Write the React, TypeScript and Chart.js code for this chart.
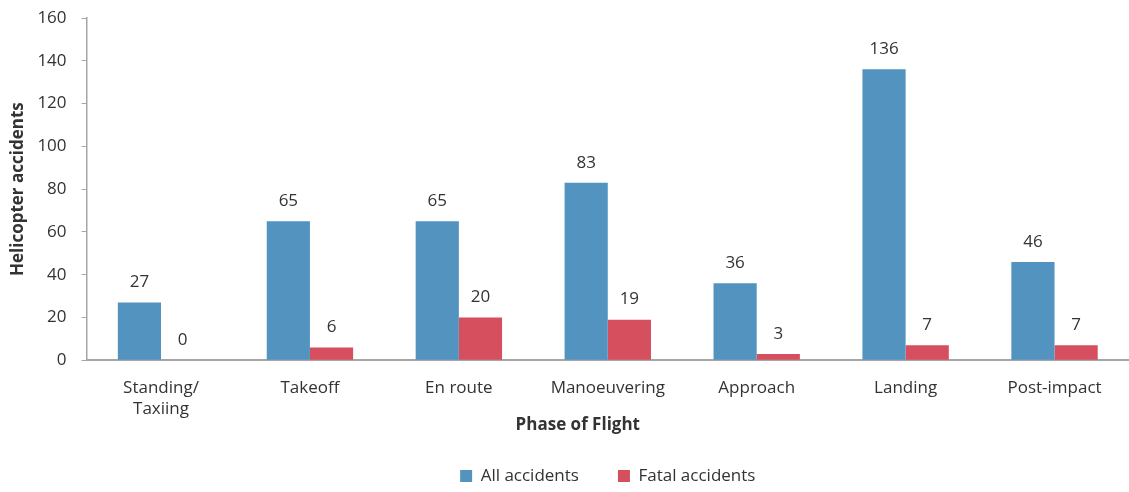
import React, { useEffect, useRef } from "react";
import { Chart, registerables } from "chart.js";

Chart.register(...registerables);

const categories: (string | string[])[] = [
  ["Standing/", "Taxiing"],
  "Takeoff",
  "En route",
  "Manoeuvering",
  "Approach",
  "Landing",
  "Post-impact",
];
const allAccidents = [27, 65, 65, 83, 36, 136, 46];
const fatalAccidents = [0, 6, 20, 19, 3, 7, 7];
const yTicks = [0, 20, 40, 60, 80, 100, 120, 140, 160];
const xTitle = "Phase of Flight";
const yTitle = "Helicopter accidents";

const FONT = "'Open Sans', 'Noto Sans', sans-serif";
const TEXT = "#333333";
const AXIS = "#a6a6a6";
const SIZE = 17;

const valueLabels = {
  id: "valueLabels",
  afterDatasetsDraw(chart: any) {
    const ctx = chart.ctx;
    ctx.save();
    ctx.font = `${SIZE}px ${FONT}`;
    ctx.fillStyle = TEXT;
    ctx.textAlign = "center";
    ctx.textBaseline = "middle";
    chart.data.datasets.forEach((ds: any, i: number) => {
      const meta = chart.getDatasetMeta(i);
      meta.data.forEach((bar: any, j: number) => {
        ctx.fillText(String(ds.data[j]), bar.x, bar.y - 20);
      });
    });
    ctx.restore();
  },
};

const xTitlePlugin = {
  id: "xTitlePlugin",
  afterDraw(chart: any) {
    const ctx = chart.ctx;
    const area = chart.chartArea;
    ctx.save();
    ctx.font = `bold ${SIZE}px ${FONT}`;
    ctx.fillStyle = TEXT;
    ctx.textAlign = "center";
    ctx.textBaseline = "middle";
    ctx.fillText(xTitle, (area.left + area.right) / 2 - 30, area.bottom + 65);
    ctx.restore();
  },
};

export default function App() {
  const ref = useRef<HTMLCanvasElement>(null);
  useEffect(() => {
    if (!ref.current) return;
    const chart = new Chart(ref.current, {
      type: "bar",
      data: {
        labels: categories,
        datasets: [
          {
            label: "All accidents",
            data: allAccidents,
            backgroundColor: "#5393bf",
            categoryPercentage: 0.58,
            barPercentage: 1,
          },
          {
            label: "Fatal accidents",
            data: fatalAccidents,
            backgroundColor: "#d64f5e",
            categoryPercentage: 0.58,
            barPercentage: 1,
          },
        ],
      },
      options: {
        animation: false,
        responsive: true,
        maintainAspectRatio: false,
        layout: { padding: { top: 0, right: 0, left: 8, bottom: -2.5 } },
        plugins: {
          legend: {
            position: "bottom",
            fullSize: false,
            labels: {
              font: { family: FONT, size: SIZE },
              color: TEXT,
              boxWidth: 12,
              boxHeight: 12,
              padding: 39,
            },
          },
          tooltip: { enabled: false },
        },
        scales: {
          x: {
            grid: { display: true, drawOnChartArea: false, drawTicks: false },
            border: { color: AXIS, width: 2 },
            ticks: {
              font: { family: FONT, size: SIZE, lineHeight: 1.25 },
              color: TEXT,
              padding: 17,
              maxRotation: 0,
            },
            afterFit: (axis: any) => {
              axis.height = axis.height - 8.3;
            },
            title: { display: false },
          },
          y: {
            min: 0,
            max: 160,
            afterBuildTicks: (axis: any) => {
              axis.ticks = yTicks.map((v) => ({ value: v }));
            },
            afterFit: (axis: any) => {
              axis.paddingTop = 18;
            },
            grid: {
              display: true,
              drawOnChartArea: false,
              drawTicks: true,
              tickLength: 5,
              color: AXIS,
            },
            border: { color: AXIS, width: 1.5 },
            ticks: {
              font: { family: FONT, size: SIZE },
              color: TEXT,
              padding: 15,
            },
            title: {
              display: true,
              text: yTitle,
              font: { family: FONT, size: SIZE, weight: "bold", lineHeight: 1.2 },
              color: TEXT,
              padding: { top: 0, bottom: -6 },
            },
          },
        },
      },
      plugins: [valueLabels, xTitlePlugin],
    });
    return () => chart.destroy();
  }, []);
  return (
    <div style={{ position: "fixed", left: 0, top: 0, width: 1129, height: 492, background: "#fff" }}>
      <canvas ref={ref} />
    </div>
  );
}
